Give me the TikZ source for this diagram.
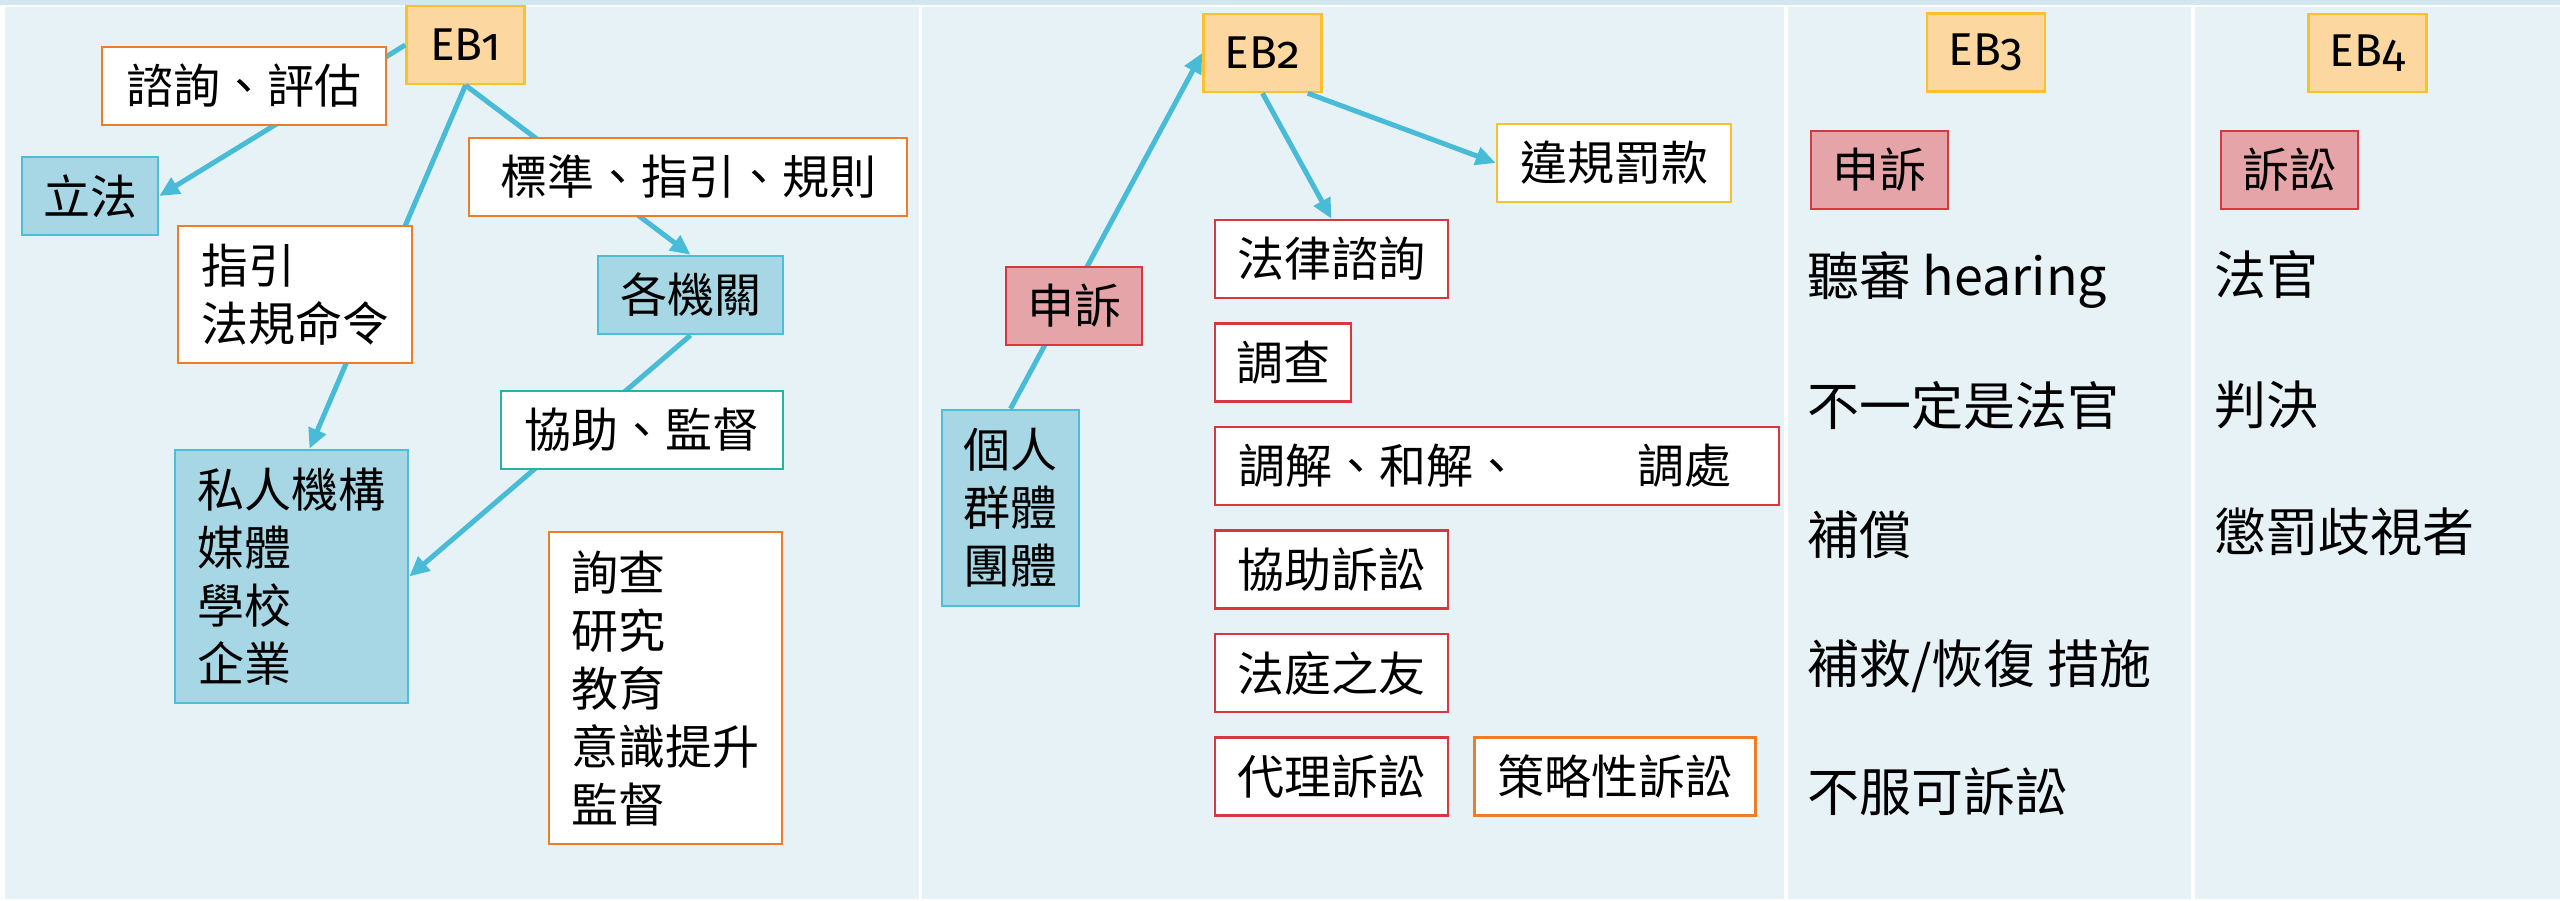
\documentclass[tikz,border=0pt]{standalone}
\usepackage{fontspec}
\setmainfont{Noto Sans CJK TC}
\newfontfamily\ebfont[Numbers=OldStyle]{Fira Sans}
\usetikzlibrary{arrows.meta, positioning}
\definecolor{panelbg}{HTML}{E7F2F7}
\definecolor{stripbg}{HTML}{D2E7EF}
\definecolor{arrowcyan}{HTML}{48BCD6}
\definecolor{bluefill}{HTML}{A7D6E4}
\definecolor{blueline}{HTML}{4CBED8}
\definecolor{ebfill}{HTML}{FDD7A0}
\definecolor{goldline}{HTML}{FBC02D}
\definecolor{orangeline}{HTML}{EE7D2A}
\definecolor{redline}{HTML}{D8373F}
\definecolor{pinkfill}{HTML}{E5A5A8}
\definecolor{tealline}{HTML}{25B4A2}
\tikzset{
>={Triangle[length=20pt,width=18pt]}, % wide heads as on the slide
x=1pt, y=-1pt, % one unit is one pixel of the slide
every node/.style={inner sep=0pt, font=\fontsize{47}{58}\selectfont},
lbox/.style={draw, line width=2.5pt, minimum height=78pt},
ebnode/.style={lbox, fill=ebfill, draw=goldline, minimum width=118pt, font=\ebfont\fontsize{46}{56}\selectfont},
bluenode/.style={lbox, fill=bluefill, draw=blueline},
orangenode/.style={lbox, fill=white, draw=orangeline},
goldnode/.style={lbox, fill=white, draw=goldline},
rednode/.style={lbox, fill=white, draw=redline},
pinknode/.style={lbox, fill=pinkfill, draw=redline},
tealnode/.style={lbox, fill=white, draw=tealline},
flow/.style={->, draw=arrowcyan, line width=5pt},
listtext/.style={anchor=base west, font=\fontsize{52}{62}\selectfont},
}
\begin{document}
\begin{tikzpicture}
  \useasboundingbox (0,0) rectangle (2560,901);
  % slide background, four columns
  \fill[white] (0,0) rectangle (2560,901);
  \fill[stripbg] (0,0) rectangle (2560,5);
  \fill[panelbg] (5,7) rectangle (919,899);
  \fill[panelbg] (922,7) rectangle (1784,899);
  \fill[panelbg] (1788,7) rectangle (2191,899);
  \fill[panelbg] (2195,7) rectangle (2560,899);

  % EB1
  \node[ebnode] (eb1) at (465.5,45) {EB1};
  \node[bluenode, minimum width=136pt] (leg) at (90,196) {立法};
  \node[bluenode, minimum width=233pt, minimum height=253pt, align=left] (priv) at (291.5,576.5) {私人機構\\媒體\\學校\\企業};
  \node[bluenode, minimum width=185pt] (agency) at (690.5,295) {各機關};
  \node[orangenode, minimum width=233pt, minimum height=312pt, align=left] (tasks) at (665.5,688) {詢查\\研究\\教育\\意識提升\\監督};

  \draw[flow] (eb1.west) -- (leg.east);
  \draw[flow] (eb1.south) -- ([xshift=18pt]priv.north);
  \draw[flow] (eb1.south) -- (agency.north);
  \draw[flow] (agency.south) -- (priv.east);

  \node[orangenode, minimum width=284pt] (consult) at (244,86) {諮詢、評估};
  \node[orangenode, minimum width=234pt, minimum height=137pt, align=left] (guide) at (295,294.5) {指引\\法規命令};
  \node[orangenode, minimum width=438pt] (rules) at (688,177) {標準、指引、規則};
  \node[tealnode, minimum width=282pt] (assist) at (642,430) {協助、監督};

  % EB2
  \node[ebnode] (eb2) at (1262.5,53) {EB2};
  \node[bluenode, minimum width=137pt, minimum height=196pt, align=left] (people) at (1010.5,508) {個人\\群體\\團體};
  \node[goldnode, minimum width=234pt] (fine) at (1614,163) {違規罰款};
  \node[rednode, minimum width=233pt] (law) at (1331.5,259) {法律諮詢};
  \node[rednode, minimum width=136pt, below=23pt of law.south west, anchor=north west] (probe) {調查};
  \node[rednode, minimum width=564pt, text width=518pt, align=left, below=23pt of probe.south west, anchor=north west] (mediate) {調解、和解、\hspace{118pt}調處};
  \node[rednode, minimum width=233pt, below=23pt of mediate.south west, anchor=north west] (aid) {協助訴訟};
  \node[rednode, minimum width=233pt, below=23pt of aid.south west, anchor=north west] (amicus) {法庭之友};
  \node[rednode, minimum width=233pt, below=23pt of amicus.south west, anchor=north west] (proxy) {代理訴訟};
  \node[orangenode, minimum width=281pt, right=24pt of proxy] (strategic) {策略性訴訟};

  \draw[flow] (people.north) -- (eb2.west);
  \draw[flow] (eb2.south) -- (law.north);
  \draw[flow] ([xshift=-15pt]eb2.south east) -- (fine.west);

  \node[pinknode, minimum width=136pt] (appeal) at (1074,306) {申訴};

  % EB3
  \node[ebnode] (eb3) at (1986,52.5) {EB3};
  \node[pinknode, minimum width=137pt] (appeal3) at (1879.5,170) {申訴};
  \node[listtext] (hear) at (1807,296) {聽審 hearing};
  \node[listtext] (nojudge) at (1807,425) {不一定是法官};
  \node[listtext] (comp) at (1807,554) {補償};
  \node[listtext] (remedy) at (1807,683) {補救/恢復 措施};
  \node[listtext] (sue) at (1807,811) {不服可訴訟};

  % EB4
  \node[ebnode] (eb4) at (2367.5,53) {EB4};
  \node[pinknode, minimum width=137pt] (suit) at (2289.5,170) {訴訟};
  \node[listtext] (judge) at (2214,295) {法官};
  \node[listtext] (ruling) at (2214,424) {判決};
  \node[listtext] (punish) at (2214,551) {懲罰歧視者};
\end{tikzpicture}
\end{document}
